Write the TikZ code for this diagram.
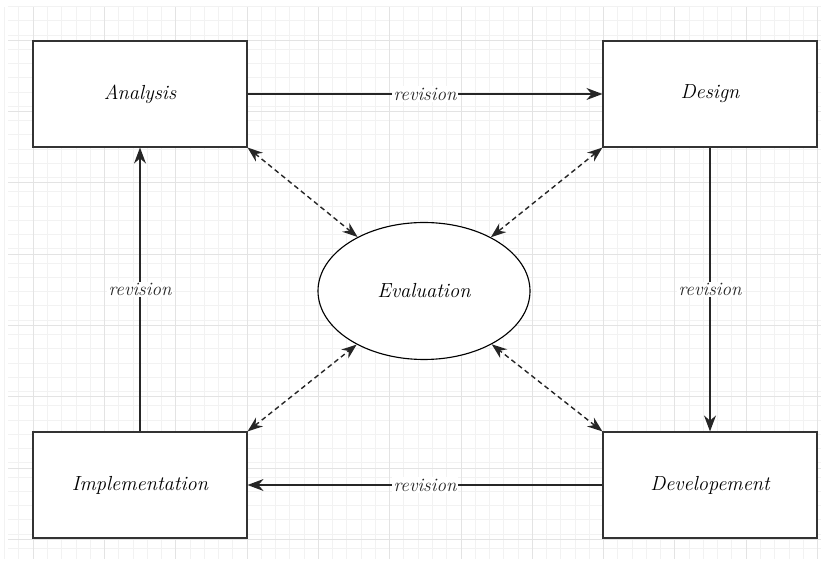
\documentclass[tikz,border=0pt]{standalone}
\usepackage{amsmath}
\usepackage{xcolor}
\usepackage{tikz}
\usetikzlibrary{arrows.meta,shapes.geometric,shadows}

\begin{document}
\begin{tikzpicture}[font=\fontsize{14.5}{16}\selectfont\itshape,
  stage/.style={draw=black!80, thick, fill=white, minimum width=5.35cm, minimum height=2.65cm, drop shadow={opacity=0.25, shadow xshift=0.6pt, shadow yshift=-0.6pt}},
  revlabel/.style={fill=white, inner sep=1pt, font=\fontsize{13.5}{15}\selectfont\itshape},
  flow/.style={-{Stealth[length=4mm,width=3mm]}, thick, black!85},
  feedback/.style={{Stealth[length=3.8mm,width=2.8mm]}-{Stealth[length=3.8mm,width=2.8mm]}, line width=1pt, dash pattern=on 3.5pt off 2.5pt, black!85}]
\useasboundingbox (0,0) rectangle (20.525,14.175);

% background grid
\foreach \i in {0,...,57} \draw[black!5] (0.112+\i*0.3565,0.2) -- (0.112+\i*0.3565,14.0);
\foreach \i in {0,...,38} \draw[black!5] (0.2,0.47+\i*0.3565) -- (20.525,0.47+\i*0.3565);
\foreach \i in {0,...,11} \draw[black!11] (0.825+\i*1.7825,0.2) -- (0.825+\i*1.7825,14.0);
\foreach \i in {0,...,7} \draw[black!11] (0.2,0.695+\i*1.7825) -- (20.525,0.695+\i*1.7825);

\node[stage] (analysis) at (3.5,11.825) {Analysis};
\node[stage] (design) at (17.75,11.825) {Design};
\node[stage] (implementation) at (3.5,2.05) {Implementation};
\node[stage] (developement) at (17.75,2.05) {Developement};

\node[draw=black, thick, fill=white, ellipse, minimum width=5.3cm, minimum height=3.425cm, inner sep=0pt] (evaluation) at (10.6,6.9) {Evaluation};

\draw[flow] (analysis) -- node[revlabel] {revision} (design);
\draw[flow] (design) -- node[revlabel] {revision} (developement);
\draw[flow] (developement) -- node[revlabel] {revision} (implementation);
\draw[flow] (implementation) -- node[revlabel] {revision} (analysis);

\draw[feedback] (analysis.south east) -- (evaluation);
\draw[feedback] (design.south west) -- (evaluation);
\draw[feedback] (implementation.north east) -- (evaluation);
\draw[feedback] (developement.north west) -- (evaluation);
\end{tikzpicture}
\end{document}
